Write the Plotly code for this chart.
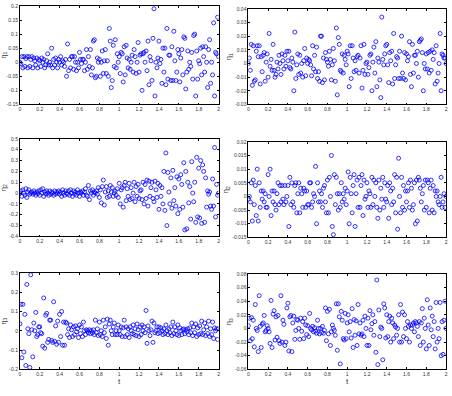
import numpy as np
import plotly.graph_objects as go

t = np.round(np.arange(0, 201) * 0.01, 2)

eta1_left = [
    0.00, -0.005, 0.02, -0.02, 0.02, -0.015, 0.013, 0.02, -0.02, 0.02, -0.015, 0.01, 0.02, -0.02, 0.015, 0.005, -0.01, 0.015, -0.02, 0.01,
    0.005, -0.015, 0.015, 0.0, 0.01, -0.02, -0.01, 0.005, 0.03, -0.01, 0.0, -0.01, 0.05, -0.02, 0.01, -0.01, 0.015, 0.0, -0.02, 0.01,
    0.0, 0.02, -0.01, 0.005, 0.0, -0.015, 0.01, -0.05, 0.065, -0.03, 0.01, -0.02, 0.02, 0.02, -0.025, 0.02, 0.0, -0.03, 0.0, -0.02,
    0.035, 0.01, -0.005, 0.01, 0.01, -0.03, 0.0, 0.045, -0.025, 0.02, -0.015, 0.045, -0.045, -0.02, 0.075, 0.08, -0.055, -0.05, 0.015, 0.0,
    0.01, -0.05, 0.0, 0.04, -0.04, 0.005, 0.045, -0.04, 0.005, -0.05, 0.12, 0.075, -0.09, -0.065, 0.06, -0.015, 0.08, -0.02, 0.03, 0.0,
    0.02, -0.04, 0.035, 0.03, -0.07, 0.055, -0.045, 0.06, 0.015, -0.02, 0.01, -0.025, 0.0, 0.025, -0.035, 0.045, 0.02, -0.04, 0.0, 0.07,
    -0.035, 0.025, 0.03, -0.1, 0.03, 0.035, 0.0, 0.04, -0.03, 0.075, -0.08, 0.02, 0.005, -0.065, 0.085, 0.19, -0.12, 0.0, -0.02, 0.015,
    0.075, -0.005, 0.01, -0.075, 0.05, -0.035, 0.05, -0.08, 0.12, -0.06, 0.025, 0.025, -0.065, 0.055, -0.065, 0.11, 0.005, -0.065, -0.035, 0.045,
    0.03, -0.07, 0.015, 0.045, -0.045, 0.09, 0.085, -0.095, -0.035, 0.04, -0.025, 0.0, -0.015, 0.035, -0.06, 0.095, 0.1, -0.12, 0.04, -0.06,
    0.005, -0.005, 0.05, -0.045, 0.055, 0.02, -0.035, 0.055, 0.0, -0.09, 0.045, 0.08, -0.075, 0.0, -0.045, 0.14, -0.12, 0.035, 0.03, 0.16, 0.02,
]

eta1_right = [
    0.0, 0.004, -0.005, 0.014, -0.016, 0.013, -0.013, -0.012, 0.009, 0.013, 0.005, 0.013, -0.015, 0.005, -0.006, 0.006, 0.008, -0.013, 0.001, 0.007,
    -0.01, 0.022, -0.002, 0.003, -0.005, 0.014, -0.005, -0.01, -0.008, 0.001, -0.004, 0.006, 0.0, -0.008, 0.007, 0.002, -0.004, 0.006, -0.002, 0.009,
    0.002, 0.009, -0.003, -0.004, 0.004, 0.001, -0.02, 0.023, -0.011, -0.001, 0.007, -0.008, 0.006, -0.007, 0.0, -0.01, 0.002, 0.011, -0.009, 0.004,
    0.0, 0.003, 0.002, -0.001, -0.009, 0.013, -0.004, 0.006, -0.006, 0.012, -0.011, -0.006, -0.013, 0.02, 0.02, -0.014, 0.004, -0.012, 0.008, 0.003,
    0.001, -0.002, 0.009, 0.003, -0.012, -0.001, 0.011, 0.002, -0.013, 0.026, -0.023, 0.019, 0.014, -0.005, -0.006, 0.007, -0.007, 0.006, 0.003, -0.001,
    0.009, 0.007, -0.017, 0.013, -0.011, 0.013, 0.004, -0.006, 0.002, -0.005, 0.005, 0.006, -0.007, 0.004, 0.013, -0.018, -0.005, 0.014, -0.008, 0.0,
    0.001, -0.008, -0.003, 0.006, 0.007, -0.02, 0.001, 0.012, -0.007, 0.016, -0.017, 0.004, 0.001, -0.012, -0.025, 0.034, 0.003, -0.001, 0.007, 0.013,
    0.014, -0.001, -0.014, 0.008, 0.002, 0.009, -0.015, 0.022, -0.011, -0.001, 0.005, 0.004, -0.011, 0.009, -0.011, 0.02, -0.007, -0.011, 0.008, -0.012,
    0.007, 0.002, 0.005, 0.016, -0.008, -0.017, 0.014, -0.007, 0.006, 0.006, 0.0, 0.009, -0.01, 0.016, 0.017, 0.018, 0.008, -0.02, 0.0, -0.004,
    0.007, -0.004, 0.008, -0.007, 0.009, -0.005, 0.01, 0.003, 0.008, -0.015, 0.013, -0.013, -0.007, 0.0, 0.022, -0.02, 0.007, 0.006, 0.004, 0.004, 0.0,
]

eta2_left = [
    0.0, 0.02, -0.03, 0.03, 0.0, -0.02, 0.04, -0.04, 0.01, 0.03, -0.01, 0.0, 0.01, -0.01, 0.02, 0.0, -0.02, 0.01, -0.005, 0.02,
    -0.02, 0.03, 0.0, 0.04, -0.03, 0.01, -0.01, 0.02, 0.0, -0.02, 0.02, -0.01, 0.01, 0.0, -0.02, 0.02, -0.01, 0.01, 0.0, 0.02,
    -0.01, 0.01, -0.03, 0.03, 0.0, -0.02, 0.02, 0.0, -0.01, 0.02, -0.02, 0.03, 0.0, -0.03, 0.02, -0.01, 0.01, -0.02, 0.03, 0.0,
    -0.03, 0.01, 0.0, 0.02, -0.02, 0.01, 0.04, -0.02, -0.03, 0.07, -0.06, 0.02, 0.0, 0.03, -0.02, 0.01, 0.0, 0.02, -0.01, 0.05,
    -0.04, 0.03, -0.09, 0.06, 0.12, -0.11, 0.01, 0.06, -0.04, 0.02, -0.03, 0.07, 0.01, 0.05, -0.03, 0.0, 0.02, -0.02, 0.04, -0.04,
    0.09, -0.1, 0.03, 0.05, -0.13, 0.07, 0.1, -0.07, 0.04, -0.03, 0.09, -0.06, 0.05, -0.05, 0.0, 0.1, -0.08, 0.06, -0.03, 0.08,
    -0.05, 0.02, 0.03, -0.06, 0.1, -0.1, 0.08, -0.05, 0.12, -0.12, 0.11, -0.03, 0.05, 0.1, -0.05, -0.08, 0.11, 0.03, -0.04, 0.09,
    -0.15, 0.07, -0.03, 0.05, -0.1, 0.2, -0.16, 0.37, -0.3, 0.19, 0.01, -0.1, 0.14, -0.14, 0.21, -0.07, 0.05, -0.12, 0.15, -0.19,
    0.13, -0.15, 0.17, 0.08, -0.13, 0.28, -0.34, 0.2, -0.33, 0.1, -0.09, 0.06, -0.24, 0.29, 0.0, -0.08, 0.1, -0.27, 0.33, -0.22,
    0.23, -0.23, 0.3, -0.28, 0.26, 0.2, -0.27, 0.14, -0.13, 0.02, -0.01, 0.01, -0.12, -0.15, 0.13, -0.12, 0.42, -0.22, 0.08, -0.02, 0.0,
]

eta2_right = [
    -0.001, 0.0, -0.002, 0.005, -0.009, 0.006, -0.003, 0.004, -0.007, 0.01, -0.009, 0.005, -0.004, 0.002, -0.001, 0.002, -0.002, 0.001, -0.004, -0.004,
    0.008, 0.0, 0.01, -0.007, 0.002, -0.002, 0.002, -0.003, -0.005, 0.001, 0.005, -0.003, 0.004, -0.002, 0.004, -0.001, -0.003, 0.004, -0.002, 0.0,
    0.004, -0.011, 0.007, -0.003, 0.005, -0.002, -0.004, 0.004, 0.005, -0.006, 0.001, 0.005, -0.006, 0.003, 0.001, -0.004, 0.003, 0.002, -0.004, 0.002,
    -0.003, -0.003, 0.005, 0.005, -0.004, -0.002, 0.001, 0.0, 0.011, -0.01, 0.005, -0.002, 0.002, -0.002, 0.001, -0.004, 0.003, 0.004, -0.002, -0.006,
    0.006, -0.006, 0.007, 0.0, 0.015, -0.011, -0.014, 0.008, -0.003, 0.007, 0.001, -0.005, 0.001, -0.004, 0.005, -0.002, 0.001, -0.001, 0.003, -0.003,
    0.002, 0.009, -0.01, 0.007, 0.001, -0.006, 0.004, 0.008, -0.011, 0.001, 0.006, -0.004, 0.007, -0.004, 0.004, 0.008, -0.007, 0.006, -0.001, 0.0,
    0.005, -0.004, 0.002, 0.001, -0.004, 0.007, -0.003, 0.006, 0.0, 0.005, -0.004, -0.008, 0.006, -0.005, 0.003, -0.001, 0.007, -0.004, 0.005, -0.001,
    -0.002, 0.004, -0.008, 0.005, 0.002, -0.003, 0.003, -0.002, 0.008, -0.006, 0.007, -0.012, 0.014, 0.0, -0.006, 0.007, -0.004, 0.004, -0.005, 0.002,
    -0.002, 0.002, 0.005, -0.004, 0.006, 0.003, -0.005, -0.003, 0.005, -0.01, 0.006, -0.009, 0.007, 0.006, 0.003, -0.002, 0.001, 0.004, -0.005, 0.006,
    -0.004, 0.006, 0.005, -0.006, 0.003, 0.006, -0.005, 0.004, -0.006, 0.002, 0.0, 0.002, -0.002, -0.003, 0.0, 0.007, -0.004, -0.002, 0.001, -0.004, 0.0,
]

eta3_left = [
    0.036, 0.137, -0.14, 0.137, -0.11, 0.085, -0.18, 0.24, 0.01, -0.015, -0.19, 0.29, 0.005, -0.135, 0.04, 0.0, 0.095, -0.03, -0.02, 0.02,
    0.02, -0.01, -0.015, -0.08, 0.17, -0.09, 0.08, 0.09, -0.06, -0.045, 0.055, 0.055, -0.05, -0.06, 0.15, -0.055, 0.025, -0.07, 0.05, -0.06,
    0.085, -0.03, 0.1, -0.075, 0.045, -0.075, 0.045, 0.04, -0.02, 0.01, -0.035, 0.03, 0.005, -0.03, 0.02, -0.02, 0.025, -0.005, 0.01, -0.035,
    0.03, -0.015, 0.02, -0.03, 0.045, 0.0, -0.02, 0.005, 0.0, -0.01, 0.005, -0.015, 0.0, -0.01, 0.005, -0.02, 0.055, -0.01, 0.01, -0.025,
    0.045, -0.02, 0.0, -0.03, 0.055, -0.01, 0.02, -0.04, 0.06, -0.075, 0.035, 0.055, 0.0, -0.02, 0.02, 0.04, -0.02, 0.0, -0.02, 0.03,
    0.0, -0.02, 0.02, -0.03, 0.015, 0.055, -0.03, 0.02, -0.02, 0.01, -0.035, 0.02, 0.0, -0.015, 0.03, -0.02, 0.01, -0.025, 0.035, 0.005,
    -0.03, 0.02, -0.02, 0.03, 0.0, 0.02, -0.01, 0.105, -0.065, 0.025, 0.0, -0.025, 0.005, 0.05, -0.06, 0.04, -0.01, 0.0, 0.02, -0.015,
    0.02, -0.01, 0.015, 0.0, -0.02, 0.01, -0.015, 0.03, 0.0, -0.02, 0.01, -0.01, 0.02, -0.025, 0.045, -0.015, 0.02, 0.0, -0.02, 0.03,
    -0.025, 0.015, 0.0, -0.02, 0.005, 0.01, -0.015, 0.005, -0.005, 0.01, -0.02, 0.015, -0.01, 0.04, -0.025, 0.02, -0.01, 0.035, -0.03, 0.015,
    -0.02, 0.025, -0.015, 0.05, -0.02, 0.005, 0.04, -0.025, 0.02, -0.015, 0.05, -0.03, 0.01, -0.02, 0.045, -0.04, 0.015, 0.0, 0.01, -0.045, 0.01,
]

eta3_right = [
    0.004, 0.015, -0.018, 0.016, -0.015, 0.012, -0.027, 0.035, 0.0, -0.003, -0.034, 0.048, 0.003, -0.028, 0.006, 0.008, 0.019, -0.005, -0.003, 0.004,
    0.0, -0.005, -0.022, 0.041, -0.028, 0.021, 0.026, -0.017, 0.017, -0.013, 0.019, -0.018, -0.022, 0.048, -0.02, 0.012, 0.006, -0.025, -0.02, 0.03,
    0.037, -0.033, 0.017, 0.019, -0.034, 0.008, 0.018, -0.016, -0.003, 0.013, 0.012, 0.0, -0.016, 0.015, -0.004, 0.01, -0.015, 0.015, 0.005, -0.009,
    0.004, -0.012, 0.022, 0.0, -0.002, 0.003, -0.005, 0.001, -0.004, -0.007, 0.012, 0.0, -0.008, 0.0, -0.006, 0.003, -0.007, -0.003, 0.03, -0.018,
    0.025, -0.008, 0.028, -0.025, -0.005, 0.005, 0.0, -0.003, -0.01, 0.036, -0.032, 0.036, 0.017, -0.052, 0.025, 0.012, -0.015, -0.017, 0.022, -0.015,
    0.008, 0.02, -0.005, 0.01, -0.014, 0.029, -0.028, 0.013, -0.01, 0.011, -0.025, 0.035, -0.008, 0.008, -0.01, -0.008, 0.012, -0.012, 0.018, 0.0,
    -0.025, 0.015, -0.025, 0.026, -0.002, 0.007, 0.02, -0.01, 0.01, -0.035, 0.071, -0.053, 0.027, -0.012, 0.002, 0.0, -0.046, 0.036, 0.03, -0.014,
    0.02, -0.012, 0.01, 0.018, -0.02, 0.015, 0.008, -0.015, 0.005, 0.002, -0.01, 0.0, 0.02, -0.02, 0.035, -0.02, 0.024, -0.012, 0.02, 0.0,
    -0.015, 0.01, 0.003, -0.02, 0.005, 0.0, 0.005, 0.008, -0.005, 0.01, 0.008, 0.003, -0.012, 0.01, -0.025, 0.008, 0.029, -0.02, 0.015, 0.0,
    -0.03, 0.042, 0.005, -0.025, 0.03, -0.002, 0.018, -0.012, 0.01, -0.03, 0.038, -0.02, 0.0, -0.015, 0.038, -0.04, 0.01, -0.038, 0.012, 0.04, 0.0,
]

x_ticks = [0, 0.2, 0.4, 0.6, 0.8, 1, 1.2, 1.4, 1.6, 1.8, 2]
x_ticktext = ["0", "0.2", "0.4", "0.6", "0.8", "1", "1.2", "1.4", "1.6", "1.8", "2"]

y1l_ticks = [-0.15, -0.1, -0.05, 0, 0.05, 0.1, 0.15, 0.2]
y1l_text = ["-0.15", "-0.1", "-0.05", "0", "0.05", "0.1", "0.15", "0.2"]
y1r_ticks = [-0.03, -0.02, -0.01, 0, 0.01, 0.02, 0.03, 0.04]
y1r_text = ["-0.03", "-0.02", "-0.01", "0", "0.01", "0.02", "0.03", "0.04"]
y2l_ticks = [-0.4, -0.3, -0.2, -0.1, 0, 0.1, 0.2, 0.3, 0.4, 0.5]
y2l_text = ["-0.4", "-0.3", "-0.2", "-0.1", "0", "0.1", "0.2", "0.3", "0.4", "0.5"]
y2r_ticks = [-0.015, -0.01, -0.005, 0, 0.005, 0.01, 0.015, 0.02]
y2r_text = ["-0.015", "-0.01", "-0.005", "0", "0.005", "0.01", "0.015", "0.02"]
y3l_ticks = [-0.2, -0.1, 0, 0.1, 0.2, 0.3]
y3l_text = ["-0.2", "-0.1", "0", "0.1", "0.2", "0.3"]
y3r_ticks = [-0.06, -0.04, -0.02, 0, 0.02, 0.04, 0.06, 0.08]
y3r_text = ["-0.06", "-0.04", "-0.02", "0", "0.02", "0.04", "0.06", "0.08"]

W, H = 452, 396
panels = [
    # (data, ylabel, yticks, ytext, x0px, x1px, top_px, bottom_px, show_xtitle)
    (eta1_left, "η<sub>1</sub>", y1l_ticks, y1l_text, 19, 219, 3, 103, False),
    (eta1_right, "η<sub>1</sub>", y1r_ticks, y1r_text, 249, 448, 6, 103, False),
    (eta2_left, "η<sub>2</sub>", y2l_ticks, y2l_text, 19, 219, 138, 237, False),
    (eta2_right, "η<sub>2</sub>", y2r_ticks, y2r_text, 249, 448, 141, 238, False),
    (eta3_left, "η<sub>3</sub>", y3l_ticks, y3l_text, 19, 219, 274, 372, True),
    (eta3_right, "η<sub>3</sub>", y3r_ticks, y3r_text, 249, 448, 275, 372, True),
]

fig = go.Figure()
FONT = "Liberation Sans"
for i, (vals, ylab, yt, ytxt, x0, x1, top, bot, showx) in enumerate(panels):
    n = "" if i == 0 else str(i + 1)
    fig.add_trace(go.Scatter(
        x=t, y=vals, mode="markers",
        marker=dict(symbol="circle-open", size=4, color="#0000ff", line=dict(width=0.8)),
        xaxis="x" + n, yaxis="y" + n, showlegend=False, hoverinfo="skip",
    ))
    xax = dict(
        domain=[x0 / W, x1 / W], anchor="y" + n, range=[0, 2],
        tickvals=x_ticks, ticktext=x_ticktext, ticks="inside", ticklen=2,
        tickcolor="black", tickwidth=0.6, mirror="allticks", showline=True,
        linecolor="black", linewidth=0.8, showgrid=False, zeroline=False,
        tickfont=dict(size=5, color="#333", family=FONT),
    )
    if showx:
        xax["title"] = dict(text="t", font=dict(size=8, family=FONT, color="#333"), standoff=0)
    fig.layout["xaxis" + n] = xax
    fig.layout["yaxis" + n] = dict(
        domain=[1 - bot / H, 1 - top / H], anchor="x" + n,
        range=[yt[0], yt[-1]], tickvals=yt, ticktext=ytxt, ticks="inside",
        ticklen=2, tickcolor="black", tickwidth=0.6, mirror="allticks",
        showline=True, linecolor="black", linewidth=0.8, showgrid=False,
        zeroline=False, tickfont=dict(size=5, color="#333", family=FONT),
        title=dict(text=ylab, font=dict(size=7, family=FONT, color="#333"), standoff=2),
    )

fig.update_layout(
    width=W, height=H, margin=dict(l=0, r=0, t=0, b=0),
    plot_bgcolor="white", paper_bgcolor="white",
)
fig.write_html("out.html")
